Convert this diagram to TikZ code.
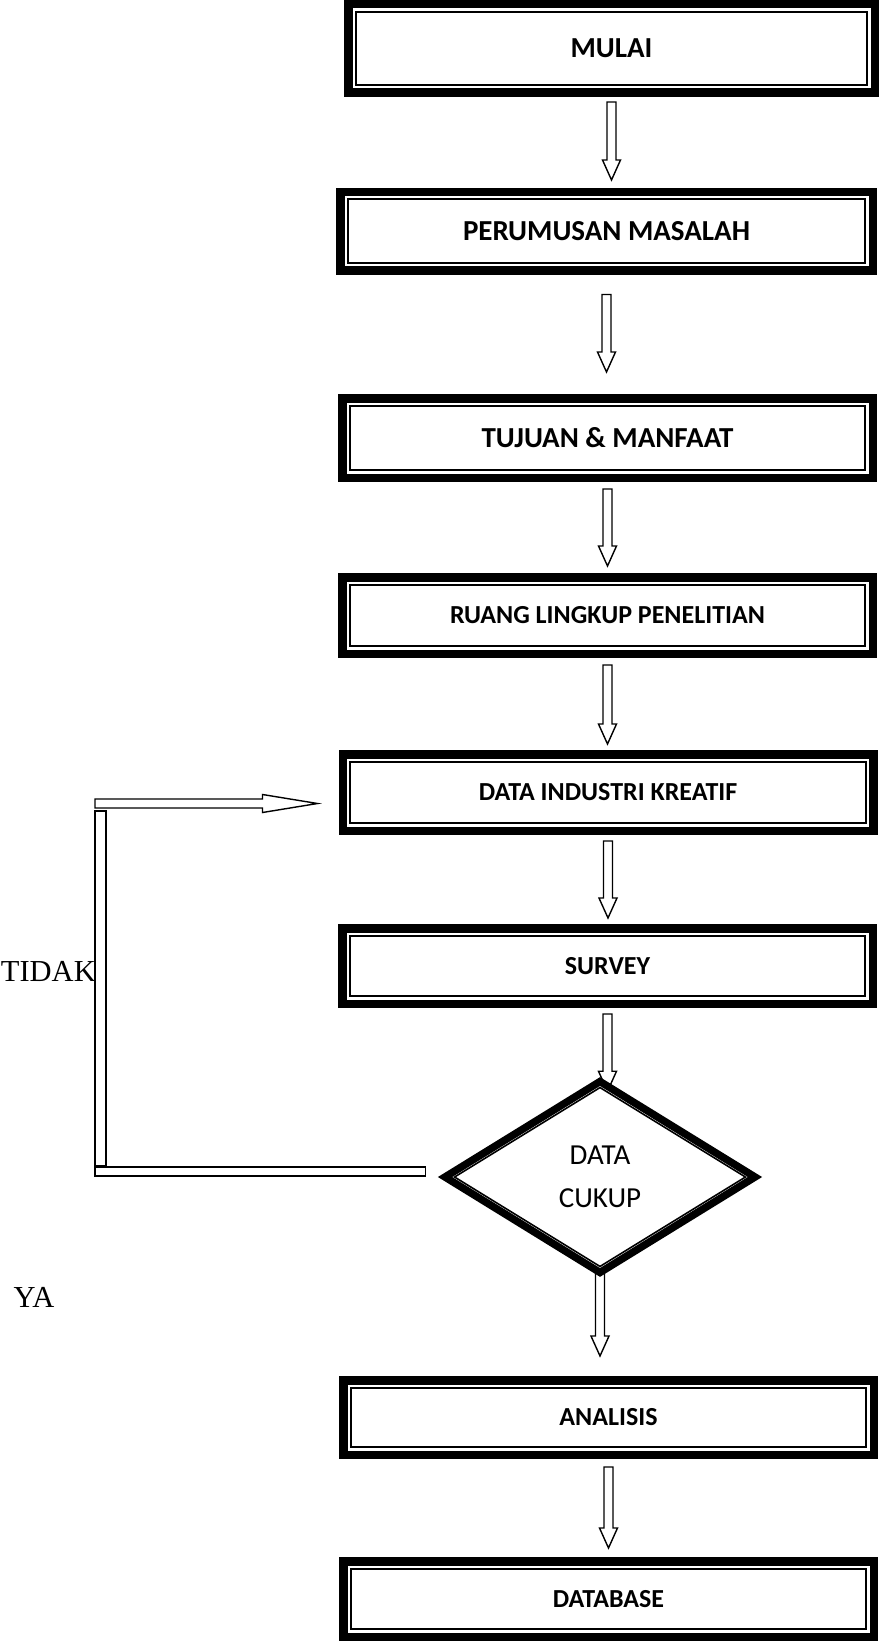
\documentclass[tikz,border=0pt]{standalone}
\usepackage{fontspec}
\setmainfont{Carlito}
\newfontfamily\hurufserif{Liberation Serif}
\usetikzlibrary{shapes.geometric,backgrounds,calc}

\tikzset{
  kotak/.style={draw,line width=8.5pt,fill=white,inner sep=0pt,
    minimum width=530.5pt,minimum height=76.5pt,
    font=\bfseries\fontsize{29}{34}\selectfont,
    path picture={\draw[line width=1.6pt]
      ([shift={(7.5pt,-7.5pt)}]path picture bounding box.north west) rectangle
      ([shift={(-7.5pt,7.5pt)}]path picture bounding box.south east);}},
  kecil/.style={font=\bfseries\fontsize{26}{30}\selectfont},
  keputusan/.style={draw,diamond,line width=7.5pt,fill=white,inner sep=0pt,
    minimum width=313pt,minimum height=194pt,align=center,
    font=\fontsize{29}{43}\selectfont,
    path picture={\draw[line width=1.6pt]
      ([yshift=-6pt]path picture bounding box.north) --
      ([xshift=9.5pt]path picture bounding box.west) --
      ([yshift=6pt]path picture bounding box.south) --
      ([xshift=-9.5pt]path picture bounding box.east) -- cycle;}},
  panah/.style={draw,line width=1.4pt,fill=white},
  label/.style={inner sep=0pt,font=\hurufserif\fontsize{30.5}{34}\selectfont}
}

% block arrow going down, from #1 to the tip #2
\newcommand\panahbawah[2]{%
  \draw[panah] let \p1=(#1),\p2=(#2) in
    (\x1-4.5pt,\y1) -- (\x1-4.5pt,\y2+20pt) -- (\x1-9pt,\y2+20pt) -- (\x1,\y2)
    -- (\x1+9pt,\y2+20pt) -- (\x1+4.5pt,\y2+20pt) -- (\x1+4.5pt,\y1) -- cycle;}
% block arrow going right
\newcommand\panahkanan[2]{%
  \draw[panah] let \p1=(#1),\p2=(#2) in
    (\x1,\y1+4.5pt) -- (\x2-55pt,\y1+4.5pt) -- (\x2-55pt,\y1+9pt) -- (\x2,\y1)
    -- (\x2-55pt,\y1-9pt) -- (\x2-55pt,\y1-4.5pt) -- (\x1,\y1-4.5pt) -- cycle;}

\begin{document}
\begin{tikzpicture}[x=1pt,y=-1pt]
\useasboundingbox (0,0) rectangle (879,1643);

\node[kotak,minimum width=526.5pt,minimum height=88.5pt] (mulai) at (611.5,48.5) {MULAI};
\node[kotak,minimum width=532.5pt,minimum height=78.5pt] (perumusan) at (606.5,231) {PERUMUSAN MASALAH};
\node[kotak,minimum height=79.5pt] (tujuan) at (607.5,438) {TUJUAN \& MANFAAT};
\node[kotak,kecil] (ruang) at (607.5,615.5) {RUANG LINGKUP PENELITIAN};
\node[kotak,kecil] (dataind) at (608,792.5) {DATA INDUSTRI KREATIF};
\node[kotak,kecil,minimum height=75.5pt] (survey) at (607.5,966) {SURVEY};
\node[keputusan] (cukup) at (600,1177) {DATA\\CUKUP};
\node[kotak,kecil,minimum height=74.5pt] (analisis) at (608.5,1417.5) {ANALISIS};
\node[kotak,kecil,minimum height=75.5pt] (database) at (608.5,1599) {DATABASE};

\node[label,anchor=east] (tidak) at (96,971) {TIDAK};
\node[label] (ya) at (34,1297.5) {YA};

\panahbawah{[yshift=-5pt]mulai.south}{[yshift=7.5pt]perumusan.north}
\panahbawah{[yshift=-20pt]perumusan.south}{[yshift=22pt]tujuan.north}
\panahbawah{[yshift=-7pt]tujuan.south}{[yshift=7pt]ruang.north}
\panahbawah{[yshift=-7pt]ruang.south}{[yshift=6pt]dataind.north}
\panahbawah{[yshift=-6pt]dataind.south}{[yshift=6pt]survey.north}
\panahbawah{[yshift=-8pt]analisis.south}{[yshift=9pt]database.north}
\begin{scope}[on background layer]
\panahbawah{[yshift=-6pt]survey.south}{[yshift=-15pt]cukup.north}
\panahbawah{[yshift=8pt]cukup.south}{[yshift=20pt]analisis.north}
\end{scope}

% jalur TIDAK kembali ke data
\coordinate (ujungbawah) at ([xshift=-14pt]cukup.west);
\coordinate (sudutbawah) at (95,1176);
\coordinate (sudutatas) at (95,803.5);
\draw[panah] (sudutbawah) rectangle ([yshift=10pt]ujungbawah);
\draw[panah] (95,811) rectangle (106,1166);
\panahkanan{sudutatas}{[shift={(-21pt,-11pt)}]dataind.west}

\end{tikzpicture}
\end{document}
